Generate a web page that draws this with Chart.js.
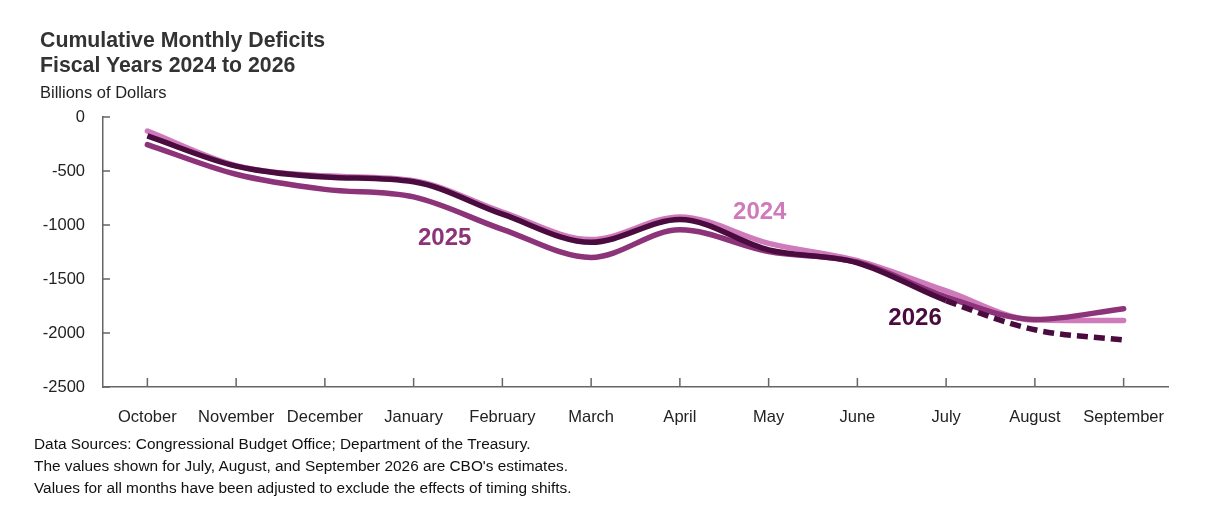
<!DOCTYPE html>
<html lang="en">
<head>
    <meta charset="UTF-8">
    <title>Cumulative Monthly Deficits</title>
    <script src="https://cdn.jsdelivr.net/npm/chart.js"></script>
    <style>
        body {
            margin: 0;
            width: 1228px;
            height: 508px;
            position: relative;
            overflow: hidden;
            background: #fff;
            font-family: "Liberation Sans", Arial, sans-serif;
        }
        .title {
            position: absolute;
            left: 40px;
            top: 28px;
            font-size: 21.3px;
            font-weight: bold;
            line-height: 25px;
            color: #333;
        }
        .unit {
            position: absolute;
            left: 40px;
            top: 83px;
            font-size: 16.5px;
            color: #222;
        }
        .notes {
            position: absolute;
            left: 34px;
            top: 433px;
            font-size: 15.4px;
            line-height: 22px;
            color: #111;
        }
        #wrap {
            position: absolute;
            left: 0;
            top: 0;
            width: 1228px;
            height: 508px;
        }
    </style>
</head>
<body>
    <div id="wrap"><canvas id="deficits"></canvas></div>
    <div class="title">Cumulative Monthly Deficits<br>Fiscal Years 2024 to 2026</div>
    <div class="unit">Billions of Dollars</div>
    <div class="notes">
        Data Sources: Congressional Budget Office; Department of the Treasury.<br>
        The values shown for July, August, and September 2026 are CBO's estimates.<br>
        Values for all months have been adjusted to exclude the effects of timing shifts.
    </div>

    <script>
        const months = ['October', 'November', 'December', 'January', 'February', 'March',
                        'April', 'May', 'June', 'July', 'August', 'September'];
        const fy2024 = [-130, -450, -545, -590, -880, -1135, -925, -1170, -1330, -1610, -1880, -1885];
        const fy2025 = [-255, -530, -670, -740, -1040, -1300, -1045, -1245, -1345, -1665, -1875, -1775];
        const fy2026 = [-175, -455, -555, -600, -900, -1160, -950, -1230, -1350, -1700, -1970, -2065];
        const yTicks = [0, -500, -1000, -1500, -2000, -2500];
        // first month of CBO estimates for 2026 (July)
        const estimateFrom = 9;

        const c2024 = '#cf7bbb';
        const c2025 = '#8c3379';
        const c2026 = '#4a0b3f';

        // where the year names sit, in axis units
        const seriesLabels = [
            { text: '2025', x: 3.35, y: -1120, color: c2025 },
            { text: '2024', x: 6.9, y: -880, color: c2024 },
            { text: '2026', x: 8.65, y: -1860, color: c2026 }
        ];

        const font = '"Liberation Sans", Arial, sans-serif';

        const innerTicks = {
            id: 'innerTicks',
            afterDraw(chart) {
                const { ctx, chartArea, scales } = chart;
                ctx.save();
                ctx.strokeStyle = '#666';
                ctx.lineWidth = 1.5;
                ctx.beginPath();
                scales.y.ticks.forEach((t, i) => {
                    const py = scales.y.getPixelForTick(i);
                    ctx.moveTo(chartArea.left, py);
                    ctx.lineTo(chartArea.left + 7, py);
                });
                scales.x.ticks.forEach((t, i) => {
                    const px = scales.x.getPixelForTick(i);
                    ctx.moveTo(px, chartArea.bottom);
                    ctx.lineTo(px, chartArea.bottom - 9);
                });
                ctx.stroke();

                ctx.font = 'bold 24px ' + font;
                ctx.textAlign = 'center';
                ctx.textBaseline = 'middle';
                seriesLabels.forEach(l => {
                    ctx.fillStyle = l.color;
                    ctx.fillText(l.text, scales.x.getPixelForValue(l.x), scales.y.getPixelForValue(l.y));
                });
                ctx.restore();
            }
        };

        new Chart(document.getElementById('deficits'), {
            type: 'line',
            data: {
                labels: months,
                datasets: [
                    {
                        label: '2026',
                        data: fy2026,
                        borderColor: c2026,
                        order: 1,
                        borderCapStyle: 'butt',
                        segment: {
                            borderDash: ctx => ctx.p0DataIndex >= estimateFrom ? [11, 6] : undefined
                        }
                    },
                    { label: '2025', data: fy2025, borderColor: c2025, order: 2 },
                    { label: '2024', data: fy2024, borderColor: c2024, order: 3 }
                ]
            },
            options: {
                responsive: true,
                maintainAspectRatio: false,
                animation: false,
                layout: { padding: { top: 117, right: 60, left: 0, bottom: 0 } },
                elements: {
                    line: { borderWidth: 5.5, cubicInterpolationMode: 'monotone', borderCapStyle: 'round' },
                    point: { radius: 0, hoverRadius: 0 }
                },
                plugins: {
                    legend: { display: false },
                    tooltip: { enabled: false }
                },
                scales: {
                    x: {
                        offset: true,
                        grid: { display: true, drawOnChartArea: false, drawTicks: false },
                        border: { display: true, color: '#666', width: 1.5 },
                        ticks: {
                            padding: 21,
                            color: '#222',
                            maxRotation: 0,
                            autoSkip: false,
                            font: { family: font, size: 16.5 }
                        },
                        afterFit(scale) { scale.height = 121; }
                    },
                    y: {
                        min: -2500,
                        max: 0,
                        afterBuildTicks(scale) { scale.ticks = yTicks.map(v => ({ value: v })); },
                        grid: { display: true, drawOnChartArea: false, drawTicks: false },
                        border: { display: true, color: '#666', width: 1.5 },
                        ticks: {
                            padding: 18,
                            color: '#222',
                            font: { family: font, size: 16.5 },
                            callback: v => String(v)
                        },
                        afterFit(scale) { scale.width = 103; }
                    }
                }
            },
            plugins: [innerTicks]
        });
    </script>
</body>
</html>
